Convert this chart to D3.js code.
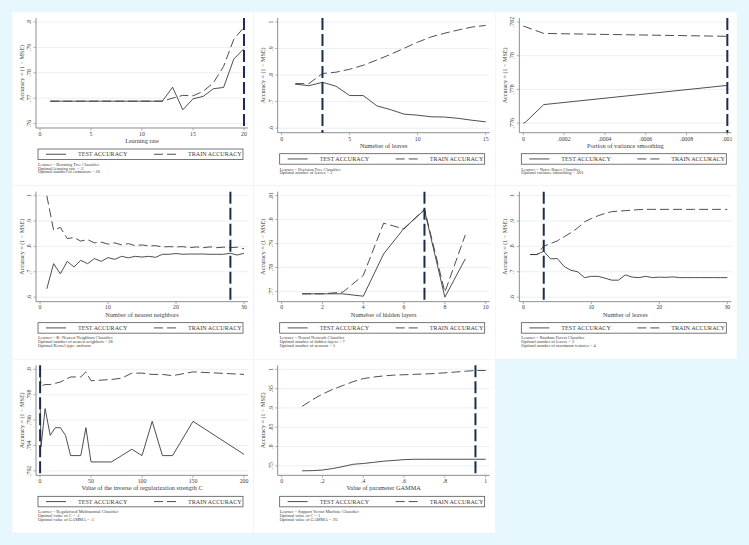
<!DOCTYPE html>
<html lang="en">
<head>
<meta charset="UTF-8">
<title>Tuning curves</title>
<style>
  body { margin: 0; background: #e6f7fd; overflow: hidden; }
  svg { display: block; font-family: 'Liberation Serif', 'Times New Roman', serif; }
</style>
</head>
<body>
<div id="chart"></div>
<script src="https://d3js.org/d3.v7.min.js"></script>
<script>
// ---- data ----
// 1 boosting
const boostX = [1,2,3,4,5,6,7,8,9,10,11,12,13,14,15,16,17,18,19,20];
const boostTest = [.7688,.7688,.7688,.7688,.7688,.7688,.7688,.7688,.7688,.7688,.7688,.7688,.7743,.7654,.7697,.7707,.7737,.7742,.7854,.7895];
const boostTrain = [.7688,.7688,.7688,.7688,.7688,.7688,.7688,.7688,.7688,.7688,.7688,.7688,.7700,.7711,.7709,.7727,.7760,.7825,.7932,.7979];
// 2 decision tree
const treeX = [1,2,3,4,5,6,7,8,9,10,11,12,13,14,15];
const treeTest = [.766,.760,.773,.758,.723,.723,.684,.670,.653,.649,.643,.642,.637,.630,.624];
const treeTrain = [.768,.768,.806,.811,.822,.837,.857,.878,.901,.924,.944,.958,.970,.981,.987];
// 3 naive bayes
const nbX = [0,.00001,.0001,.001];
const nbTest = [.7760,.77605,.7771,.77824];
const nbTrain = [.78175,.78172,.78132,.78115];
// 4 knn
const knnX = [1,2,3,4,5,6,7,8,9,10,11,12,13,14,15,16,17,18,19,20,21,22,23,24,25,26,27,28,29,30];
const knnTest = [.633,.732,.692,.741,.719,.745,.732,.752,.741,.756,.749,.761,.755,.761,.758,.761,.757,.769,.769,.772,.769,.770,.770,.770,.769,.769,.769,.773,.766,.773];
const knnTrain = [1.0,.864,.875,.831,.835,.821,.827,.814,.817,.809,.814,.806,.811,.803,.806,.802,.803,.798,.799,.798,.799,.795,.798,.795,.798,.795,.797,.795,.797,.791];
// 5 neural network
const nnX = [1,2,3,4,5,6,7,8,9];
const nnTest = [.769,.769,.769,.768,.7857,.7964,.804,.7676,.7836];
const nnTrain = [.769,.769,.7697,.7767,.7985,.7961,.8044,.7697,.7936];
// 6 random forest
const rfX = [1,2,3,4,5,6,7,8,9,10,11,12,13,14,15,16,17,18,19,20,21,22,23,24,25,26,27,28,29,30];
const rfTest = [.768,.768,.781,.751,.752,.721,.706,.700,.677,.682,.682,.675,.667,.667,.688,.679,.677,.682,.677,.679,.678,.680,.677,.677,.677,.677,.677,.677,.677,.677];
const rfTrain = [.768,.768,.801,.811,.822,.838,.854,.873,.897,.910,.921,.930,.937,.939,.941,.943,.945,.946,.946,.946,.946,.946,.946,.946,.946,.946,.946,.946,.946,.946];
// 7 regularized multinomial
const mnX = [.1,1,5,10,15,20,25,30,40,45,50,70,80,90,100,110,120,130,150,200];
const mnTest = [.7975,.7939,.7969,.7948,.7954,.7954,.7948,.7932,.7932,.7954,.7927,.7927,.7932,.7937,.7932,.7959,.7932,.7932,.7959,.7933];
const mnTrain = [.7996,.7987,.7988,.7988,.7989,.7990,.7992,.7994,.7994,.7998,.7991,.7992,.7993,.7997,.7997,.7996,.7996,.7995,.7998,.7996];
// 8 svm
const svmX = [.1,.15,.2,.25,.3,.35,.4,.45,.5,.55,.6,.65,.7,.75,.8,.85,.9,.95,1];
const svmTest = [.737,.7375,.739,.743,.748,.754,.756,.759,.762,.764,.766,.767,.767,.767,.767,.767,.767,.767,.767];
const svmTrain = [.904,.921,.936,.948,.958,.968,.976,.980,.983,.985,.986,.987,.988,.989,.991,.993,.995,.997,.997];

const panels = [
  { x: boostX, test: boostTest, train: boostTrain, best: 20, xDomain: [0, 20],
    xTicks: [0,5,10,15,20], yTicks: [.76,.77,.78,.79,.8], xTitle: 'Learning rate',
    notes: ['Learner = Boosting Tree Classifier', 'Optimal learning rate = .2', 'Optimal number of estimators = 20'] },
  { x: treeX, test: treeTest, train: treeTrain, best: 3, xDomain: [0, 15],
    xTicks: [0,5,10,15], yTicks: [.6,.7,.8,.9,1], xTitle: 'Numeber of leaves',
    notes: ['Learner = Decision Tree Classifier', 'Optimal number of leaves = 3'] },
  { x: nbX, test: nbTest, train: nbTrain, best: .001, xDomain: [0, .001], yMin: .7757,
    xTicks: [0,.0002,.0004,.0006,.0008,.001], yTicks: [.776,.778,.78,.782], xTitle: 'Portion of variance smoothing',
    notes: ['Learner = Naive Bayes Classifier', 'Optimal variance smoothing = .001'] },
  { x: knnX, test: knnTest, train: knnTrain, best: 28, xDomain: [0, 30],
    xTicks: [0,10,20,30], yTicks: [.6,.7,.8,.9,1], xTitle: 'Number of nearest neighbors',
    notes: ['Learner = K\u2212Nearest Neighbors Classifier', 'Optimal number of nearest neighbors = 28', 'Optimal Kernel type: uniform'] },
  { x: nnX, test: nnTest, train: nnTrain, best: 7, xDomain: [0, 10],
    xTicks: [0,2,4,6,8,10], yTicks: [.77,.78,.79,.8,.81], xTitle: 'Numeber of hidden layers',
    notes: ['Learner = Neural Network Classifier', 'Optimal number of hidden layers = 7', 'Optimal number of neurons = 5'] },
  { x: rfX, test: rfTest, train: rfTrain, best: 3, xDomain: [0, 30],
    xTicks: [0,10,20,30], yTicks: [.6,.7,.8,.9,1], xTitle: 'Number of leaves',
    notes: ['Learner = Random Forest Classifier', 'Optimal number of leaves = 3', 'Optimal number of maximum features = 4'] },
  { x: mnX, test: mnTest, train: mnTrain, best: .1, xDomain: [0, 200],
    xTicks: [0,50,100,150,200], yTicks: [.792,.794,.796,.798,.8], xTitle: 'Value of the inverse of regularization strength C',
    notes: ['Learner = Regularized Multinomial Classifier', 'Optimal value of C = .1', 'Optimal value of GAMMA = .1'] },
  { x: svmX, test: svmTest, train: svmTrain, best: .95, xDomain: [0, 1],
    xTicks: [0,.2,.4,.6,.8,1], yTicks: [.75,.8,.85,.9,.95,1], xTitle: 'Value of parameter GAMMA',
    notes: ['Learner = Support Vector Machine Classifier', 'Optimal value of C = 1', 'Optimal value of GAMMA = .95'] }
];

// ---- layout ----
const W = 749, H = 545;
const gx = 12, gy = 12, cellW = (737 - 12) / 3, cellH = (533 - 12) / 3;
const ink = '#3b3b3b';
const fmt = v => String(+v.toPrecision(6)).replace(/^0\./, '.');

const svg = d3.select('#chart').append('svg')
  .attr('width', W).attr('height', H);

svg.append('rect').attr('width', W).attr('height', H).attr('fill', '#e6f7fd');

panels.forEach((p, i) => {
  const col = i % 3, row = Math.floor(i / 3);
  const g = svg.append('g')
    .attr('transform', `translate(${gx + col * cellW},${gy + row * cellH})`);

  g.append('rect')
    .attr('width', cellW).attr('height', cellH)
    .attr('fill', '#fff').attr('stroke', '#eef1f3').attr('stroke-width', 0.5);

  // fewer note lines -> taller plot
  const shift = (3 - p.notes.length) * 4.7;
  const axisY = 116 + shift;
  const axL = 24, axR = 236;

  const x = d3.scaleLinear().domain(p.xDomain).range([28, 232]);
  const vals = p.test.concat(p.train, p.yTicks);
  const lo = p.yMin !== undefined ? p.yMin : d3.min(vals);
  const y = d3.scaleLinear().domain([lo, d3.max(vals)]).range([axisY - 4.5, 10]);

  // gridlines
  g.selectAll('line.grid').data(p.yTicks).join('line')
    .attr('class', 'grid')
    .attr('x1', axL).attr('x2', axR)
    .attr('y1', d => y(d)).attr('y2', d => y(d))
    .attr('stroke', '#e1ecf5').attr('stroke-width', 0.8);

  // y axis
  g.append('line').attr('x1', axL).attr('x2', axL).attr('y1', 6).attr('y2', axisY)
    .attr('stroke', '#8f8f8f').attr('stroke-width', 1);
  g.selectAll('line.yt').data(p.yTicks).join('line')
    .attr('class', 'yt')
    .attr('x1', axL - 2.5).attr('x2', axL)
    .attr('y1', d => y(d)).attr('y2', d => y(d))
    .attr('stroke', '#8f8f8f').attr('stroke-width', 0.7);
  g.selectAll('text.yl').data(p.yTicks).join('text')
    .attr('class', 'yl')
    .attr('transform', d => `translate(${axL - 5},${y(d)}) rotate(-90)`)
    .attr('text-anchor', 'middle')
    .attr('font-size', 5.8).attr('fill', ink)
    .text(fmt);
  g.append('text')
    .attr('transform', `translate(${axL - 12.5},${(6 + axisY) / 2}) rotate(-90)`)
    .attr('text-anchor', 'middle')
    .attr('font-size', 6.1).attr('fill', ink)
    .text('Accuracy = (1 \u2212 MSE)');

  // x axis
  g.append('line').attr('x1', axL).attr('x2', axR).attr('y1', axisY).attr('y2', axisY)
    .attr('stroke', '#8f8f8f').attr('stroke-width', 1);
  g.selectAll('line.xt').data(p.xTicks).join('line')
    .attr('class', 'xt')
    .attr('x1', d => x(d)).attr('x2', d => x(d))
    .attr('y1', axisY).attr('y2', axisY + 2.5)
    .attr('stroke', '#8f8f8f').attr('stroke-width', 0.7);
  g.selectAll('text.xl').data(p.xTicks).join('text')
    .attr('class', 'xl')
    .attr('x', d => x(d)).attr('y', axisY + 7.8)
    .attr('text-anchor', 'middle')
    .attr('font-size', 5.8).attr('fill', ink)
    .text(fmt);
  g.append('text')
    .attr('x', (axL + axR) / 2).attr('y', axisY + 15)
    .attr('text-anchor', 'middle')
    .attr('font-size', 6.3).attr('fill', ink)
    .text(p.xTitle);

  // series
  const line = s => d3.line().x((d, k) => x(p.x[k])).y(d => y(d))(s);
  g.append('path').attr('d', line(p.train))
    .attr('fill', 'none').attr('stroke', ink).attr('stroke-width', 0.9)
    .attr('stroke-dasharray', '9,4');
  g.append('path').attr('d', line(p.test))
    .attr('fill', 'none').attr('stroke', ink).attr('stroke-width', 0.9);

  // optimum marker
  g.append('line')
    .attr('x1', x(p.best)).attr('x2', x(p.best))
    .attr('y1', 6).attr('y2', axisY)
    .attr('stroke', '#1d2c4c').attr('stroke-width', 2)
    .attr('stroke-dasharray', '12,4');

  // legend
  const lt = axisY + 21, lh = 10.5, lc = lt + lh / 2;
  g.append('rect').attr('x', 26).attr('y', lt).attr('width', 205).attr('height', lh)
    .attr('fill', '#fff').attr('stroke', '#555').attr('stroke-width', 0.8);
  g.append('line').attr('x1', 34).attr('x2', 54).attr('y1', lc).attr('y2', lc)
    .attr('stroke', ink).attr('stroke-width', 0.9);
  g.append('text').attr('x', 66).attr('y', lc + 2.1)
    .attr('font-size', 6.1).attr('fill', ink).text('TEST ACCURACY');
  g.append('line').attr('x1', 142).attr('x2', 164).attr('y1', lc).attr('y2', lc)
    .attr('stroke', ink).attr('stroke-width', 0.9).attr('stroke-dasharray', '9,4');
  g.append('text').attr('x', 176).attr('y', lc + 2.1)
    .attr('font-size', 6.1).attr('fill', ink).text('TRAIN ACCURACY');

  // notes
  g.selectAll('text.note').data(p.notes).join('text')
    .attr('class', 'note')
    .attr('x', 26).attr('y', (d, k) => lt + lh + 6.3 + k * 3.7)
    .attr('font-size', 4.4).attr('fill', ink)
    .text(d => d);
});
</script>
</body>
</html>
